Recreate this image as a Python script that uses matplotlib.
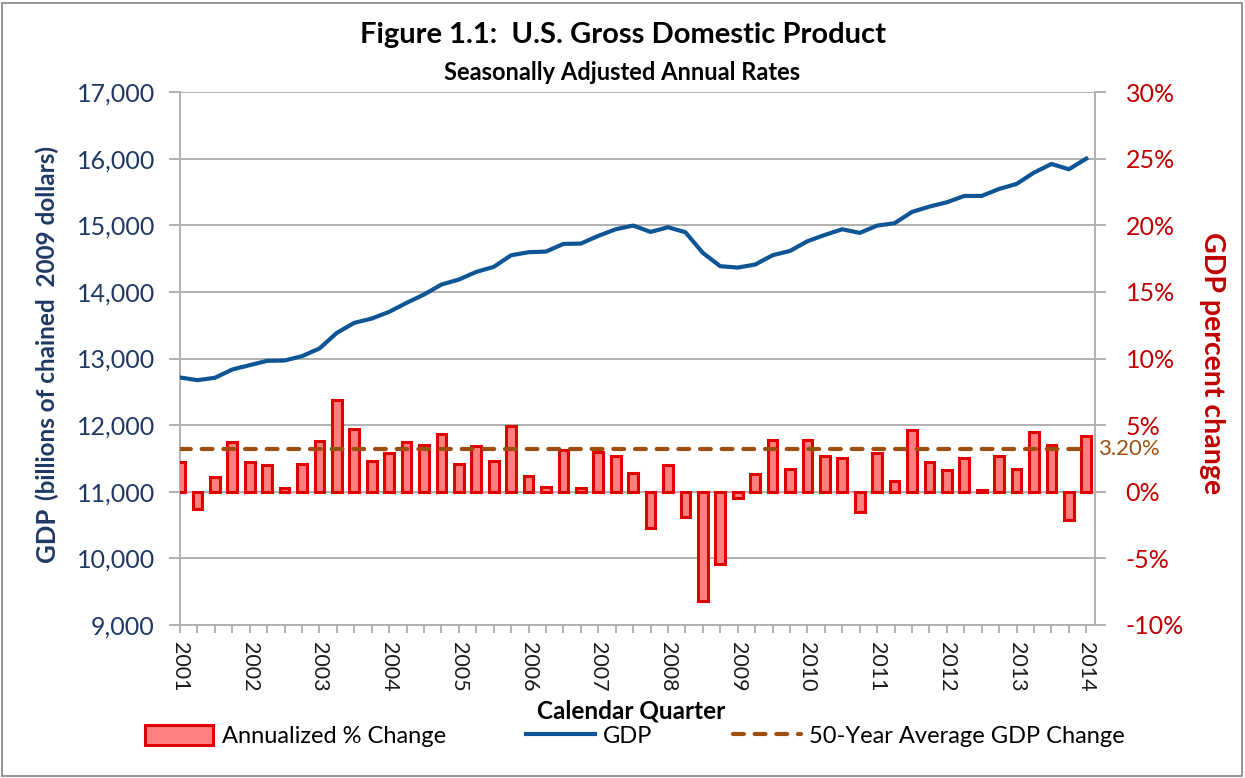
import numpy as np
import matplotlib
matplotlib.use("Agg")
import matplotlib.pyplot as plt
from matplotlib.patches import Rectangle, Patch
from matplotlib.lines import Line2D

plt.rcParams['font.family'] = ['Lato', 'DejaVu Sans']

# ---------------- data ----------------
years = [str(y) for y in range(2001, 2015)]
gdp = [12715, 12675, 12710, 12835, 12900, 12965, 12970, 13035, 13150, 13385,
       13535, 13600, 13700, 13835, 13960, 14110, 14185, 14300, 14375, 14550,
       14595, 14605, 14720, 14725, 14840, 14940, 14995, 14900, 14970, 14895,
       14585, 14385, 14365, 14410, 14550, 14615, 14760, 14855, 14940, 14885,
       14995, 15030, 15200, 15280, 15345, 15440, 15440, 15545, 15620, 15790,
       15920, 15840, 16000]
pct_change = [2.2, -1.3, 1.1, 3.7, 2.2, 2.0, 0.3, 2.1, 3.8, 6.9,
              4.7, 2.3, 2.9, 3.7, 3.5, 4.3, 2.1, 3.4, 2.3, 4.9,
              1.2, 0.35, 3.1, 0.25, 3.0, 2.7, 1.4, -2.7, 2.0, -1.9,
              -8.2, -5.4, -0.5, 1.3, 3.9, 1.7, 3.9, 2.7, 2.5, -1.5,
              2.9, 0.8, 4.6, 2.2, 1.6, 2.5, 0.1, 2.7, 1.7, 4.5,
              3.5, -2.1, 4.2]
avg_change = 3.20

gdp_ticks = list(range(9000, 17001, 1000))
pct_ticks = list(range(-10, 31, 5))

# ---------------- figure ----------------
W, H = 1245, 778
fig = plt.figure(figsize=(W / 100, H / 100), dpi=100)
L, R, T, B = 180, 1095, 92, 625
ax = fig.add_axes([L / W, 1 - B / H, (R - L) / W, (B - T) / H])
ax2 = ax.twinx()

x = np.arange(len(gdp))
grid_c = '#B0B0B0'

ax.set_xlim(0, 52.5)
ax.set_ylim(9000, 17000)
ax2.set_ylim(-10, 30)

ax.yaxis.grid(True, color=grid_c, lw=1.4)
ax.set_axisbelow(True)

ax.plot(x, gdp, color='#0D5595', lw=3.0, solid_joinstyle='round', zorder=3)

ax2.bar(x, pct_change, width=0.55, color='#FF8080', edgecolor='#E00000',
        linewidth=2.2, zorder=2)
ax2.plot(x, [avg_change] * len(x), color='#9E4F10', lw=3.0,
         dashes=(2.6, 2.6), dash_capstyle='round', zorder=4)
ax2.text(52.66, avg_change, f'{avg_change:.2f}%', color='#9E4F10',
         fontsize=16, ha='left', va='center', clip_on=False)

# spines
for sp in ['top']:
    ax.spines[sp].set_visible(False)
    ax2.spines[sp].set_visible(False)
ax2.spines['left'].set_visible(False)
ax2.spines['bottom'].set_visible(False)
for a, sps in ((ax, ['left', 'bottom']), (ax2, ['right'])):
    for sp in sps:
        a.spines[sp].set_color(grid_c)
        a.spines[sp].set_linewidth(1.4)
ax.spines['right'].set_visible(False)

# y ticks
ax.set_yticks(gdp_ticks)
ax.set_yticklabels([f'{v:,}' for v in gdp_ticks])
ax.tick_params(axis='y', direction='out', length=8, width=1.4, color=grid_c,
               labelsize=18, labelcolor='#1F3864', pad=10)
ax2.set_yticks(pct_ticks)
ax2.set_yticklabels([f'{v}%' for v in pct_ticks])
ax2.tick_params(axis='y', direction='out', length=8, width=1.4, color=grid_c,
                labelsize=18, labelcolor='#C00000', pad=14)

# x ticks
ax.set_xticks(x[::4])
ax.set_xticklabels(years, rotation=-90)
ax.set_xticks(x, minor=True)
ax.tick_params(axis='x', which='both', direction='out', length=6, width=1.4,
               color=grid_c)
ax.tick_params(axis='x', which='major', labelsize=15.5, labelcolor='#1A1A1A', pad=6)

# titles
fig.text(0.5, 1 - 35 / H, 'Figure 1.1:  U.S. Gross Domestic Product',
         ha='center', va='center', fontsize=21, weight='bold', color='black')
fig.text(0.5, 1 - 72 / H, 'Seasonally Adjusted Annual Rates',
         ha='center', va='center', fontsize=17, weight='bold', color='black')
fig.text(631 / W, 1 - 711 / H, 'Calendar Quarter', ha='center', va='center',
         fontsize=17.5, weight='bold', color='black')

# left y label composed of two parts
navy = '#1F3864'
t1 = fig.text(55 / W, 1 - 562 / H, 'GDP', rotation=90, rotation_mode='anchor',
              ha='left', va='baseline', fontsize=18.5, weight='bold', color=navy)
fig.canvas.draw()
bb = t1.get_window_extent(fig.canvas.get_renderer())
fig.text(55 / W, (bb.y1 + 8) / H, '(billions of chained  2009 dollars)',
         rotation=90, rotation_mode='anchor', ha='left', va='baseline',
         fontsize=17.5, weight='bold', color=navy)

# right y label
fig.text(1212 / W, 1 - 363 / H, 'GDP percent change', rotation=-90,
         ha='center', va='center', fontsize=20.5, weight='bold', color='#C00000')

# legend
handles = [Patch(facecolor='#FF8080', edgecolor='#E00000', linewidth=2.2),
           Line2D([], [], color='#0D5595', lw=3.0),
           Line2D([], [], color='#9E4F10', lw=3.0, dashes=(2.6, 2.6),
                  dash_capstyle='round')]
labels = ['Annualized % Change', 'GDP', '50-Year Average GDP Change']
fig.legend(handles, labels, loc='center', bbox_to_anchor=(635 / W, 1 - 736 / H),
           ncol=3, frameon=False, fontsize=17, handlelength=2.9,
           handleheight=0.9, handletextpad=0.35, columnspacing=3.4)

# outer border
fig.patches.append(Rectangle((2 / W, 2 / H), 1 - 5 / W, 1 - 5 / H,
                             transform=fig.transFigure, fill=False,
                             edgecolor='#8C8C8C', lw=1.3))

fig.savefig('out.png', dpi=100)
